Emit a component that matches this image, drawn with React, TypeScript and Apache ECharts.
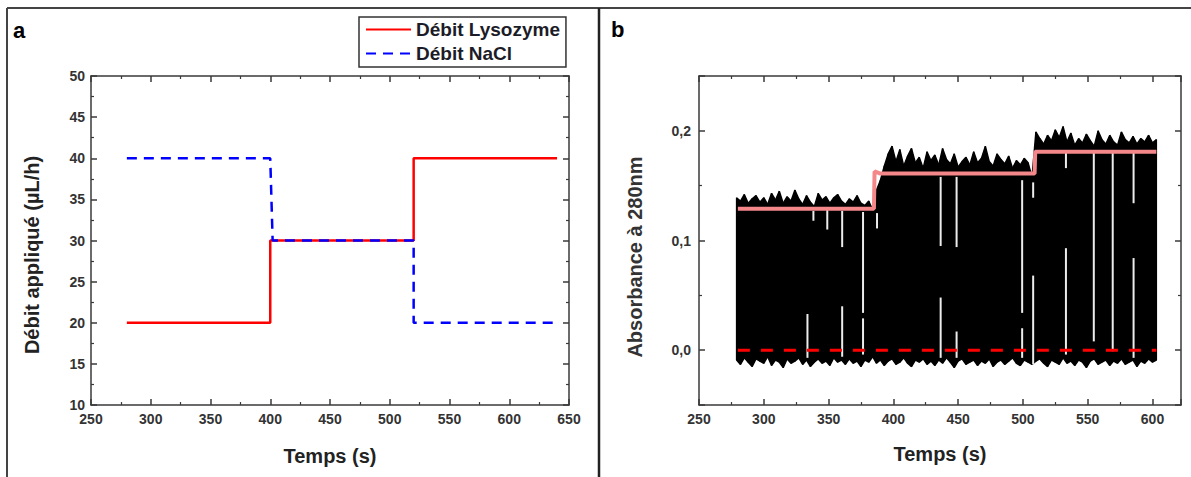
import React, { useEffect, useRef } from "react";
import * as echarts from "echarts";

// ---------- Panel a data ----------
const lysoTime = [280, 400, 400, 520, 520, 640];
const lysoFlow = [20, 20, 30, 30, 40, 40];
const naclTime = [280, 400, 402, 520, 520, 640];
const naclFlow = [40, 40, 30, 30, 20, 20];

// ---------- Panel b data ----------
const absTime = [
  279, 282, 285, 288, 291, 294, 297, 300, 303, 306,
  309, 312, 315, 318, 321, 324, 327, 330, 333, 336,
  339, 342, 345, 348, 351, 354, 357, 360, 363, 366,
  369, 372, 375, 378, 381, 384, 387, 390, 393, 396,
  399, 402, 405, 408, 411, 414, 417, 420, 423, 426,
  429, 432, 435, 438, 441, 444, 447, 450, 453, 456,
  459, 462, 465, 468, 471, 474, 477, 480, 483, 486,
  489, 492, 495, 498, 501, 504, 507, 510, 513, 516,
  519, 522, 525, 528, 531, 534, 537, 540, 543, 546,
  549, 552, 555, 558, 561, 564, 567, 570, 573, 576,
  579, 582, 585, 588, 591, 594, 597, 600, 603,
];
const absUpper = [
  0.139, 0.136, 0.142, 0.134, 0.138, 0.141, 0.135, 0.139, 0.133, 0.143,
  0.137, 0.145, 0.134, 0.140, 0.136, 0.146, 0.138, 0.133, 0.141, 0.135,
  0.131, 0.143, 0.137, 0.140, 0.134, 0.139, 0.142, 0.136, 0.133, 0.138,
  0.135, 0.141, 0.134, 0.132, 0.136, 0.128, 0.146, 0.155, 0.168, 0.179,
  0.186, 0.172, 0.183, 0.168, 0.177, 0.184, 0.171, 0.176, 0.166, 0.181,
  0.173, 0.178, 0.169, 0.184, 0.174, 0.170, 0.179, 0.167, 0.172, 0.176,
  0.169, 0.181, 0.171, 0.175, 0.186, 0.172, 0.168, 0.179, 0.174, 0.170,
  0.177, 0.166, 0.173, 0.169, 0.175, 0.171, 0.158, 0.199, 0.193, 0.188,
  0.196, 0.191, 0.201, 0.194, 0.204, 0.190, 0.198, 0.187, 0.193, 0.189,
  0.197, 0.191, 0.186, 0.200, 0.192, 0.188, 0.196, 0.190, 0.187, 0.199,
  0.192, 0.189, 0.195, 0.188, 0.193, 0.190, 0.196, 0.189, 0.192,
];
const absLower = [
  -0.009, -0.013, -0.007, -0.011, -0.015, -0.008, -0.010, -0.012, -0.006, -0.014,
  -0.009, -0.011, -0.016, -0.008, -0.012, -0.010, -0.007, -0.013, -0.009, -0.015,
  -0.011, -0.008, -0.012, -0.010, -0.014, -0.007, -0.011, -0.009, -0.013, -0.008,
  -0.012, -0.010, -0.015, -0.009, -0.011, -0.006, -0.012, -0.009, -0.014, -0.010,
  -0.008, -0.013, -0.011, -0.007, -0.012, -0.015, -0.009, -0.011, -0.008, -0.013,
  -0.010, -0.014, -0.009, -0.012, -0.007, -0.011, -0.016, -0.010, -0.008, -0.013,
  -0.011, -0.009, -0.014, -0.010, -0.012, -0.008, -0.015, -0.011, -0.009, -0.013,
  -0.010, -0.007, -0.012, -0.014, -0.009, -0.011, -0.013, -0.010, -0.008, -0.012,
  -0.015, -0.009, -0.011, -0.013, -0.007, -0.012, -0.010, -0.014, -0.009, -0.011,
  -0.016, -0.010, -0.008, -0.013, -0.011, -0.009, -0.014, -0.010, -0.012, -0.008,
  -0.013, -0.011, -0.009, -0.015, -0.010, -0.012, -0.008, -0.011, -0.009,
];
// white gaps in the recorded signal
const gapTime = [333.7, 338.3, 349, 360.5, 360.5, 376.6, 376.6, 387.4, 436.5, 436.5, 448.8, 448.8, 499.4, 499.4, 507.9, 507.9, 533.2, 533.2, 554.7, 569.3, 585.4, 585.4];
const gapLow = [-0.007, 0.118, 0.110, 0.094, -0.006, 0.034, -0.004, 0.111, 0.095, -0.007, 0.094, -0.007, 0.034, -0.007, 0.139, -0.013, 0.166, -0.004, 0.008, -0.001, 0.134, -0.007];
const gapHigh = [0.033, 0.127, 0.128, 0.127, 0.040, 0.126, 0.029, 0.125, 0.158, 0.048, 0.158, 0.017, 0.155, 0.020, 0.153, 0.068, 0.180, 0.093, 0.180, 0.180, 0.180, 0.084];
// fitted step (pink) and baseline (red dashed)
const stepTime = [280, 385, 385.5, 390, 509, 509.5, 603];
const stepAbs = [0.129, 0.129, 0.163, 0.161, 0.161, 0.181, 0.181];
const baseTime = [280, 603];
const baseAbs = [0, 0];

const FONT = "'Liberation Sans', Arial, sans-serif";
const AX = "#3a3a3a";

function axisStyle(extra: any) {
  return {
    axisLine: { show: true, onZero: false, lineStyle: { color: AX, width: 1.5 } },
    axisTick: { show: true, inside: true, length: 6, lineStyle: { color: AX, width: 1.5 } },
    minorTick: { show: true, splitNumber: 2, length: 3, lineStyle: { color: AX, width: 1.2 } },
    splitLine: { show: false },
    minorSplitLine: { show: false },
    ...extra,
  };
}

const labelStyle = { color: "#333", fontSize: 14, fontWeight: "bold", fontFamily: FONT };

export default function App() {
  const ref = useRef<HTMLDivElement>(null);
  useEffect(() => {
    if (!ref.current) return;
    const chart = echarts.init(ref.current, undefined, { renderer: "svg" });
    const zip = (a: number[], b: number[]) => a.map((v, i) => [v, b[i]]);
    // one quadrilateral per sample interval: [t0, up0, lo0, t1, up1, lo1]
    const bandData = absTime.slice(0, -1).map((t, i) => [
      t, absUpper[i], absLower[i], absTime[i + 1], absUpper[i + 1], absLower[i + 1],
    ]);

    const option: any = {
      animation: false,
      backgroundColor: "#fff",
      textStyle: { fontFamily: FONT },
      legend: {
        data: ["Débit Lysozyme", "Débit NaCl"],
        left: 359,
        top: 17,
        orient: "vertical",
        selectedMode: false,
        padding: [3, 6, 4, 6],
        itemGap: 5,
        itemWidth: 45,
        itemHeight: 14,
        itemTextGap: 4,
        borderColor: "#333",
        borderWidth: 1.5,
        itemStyle: { opacity: 0 },
        textStyle: { fontSize: 19, fontWeight: "bold", color: "#1c1c28", fontFamily: FONT },
      },
      grid: [
        { left: 91, right: 622, top: 76, bottom: 72 },
        { left: 699, right: 10, top: 76, bottom: 72 },
      ],
      xAxis: [
        axisStyle({
          type: "value", gridIndex: 0, min: 250, max: 650, interval: 50, position: "bottom",
          axisLabel: { ...labelStyle, margin: 7 },
        }),
        axisStyle({
          type: "value", gridIndex: 0, min: 250, max: 650, interval: 50, position: "top",
          axisLabel: { show: false },
        }),
        axisStyle({
          type: "value", gridIndex: 1, min: 250, max: 622, interval: 50, position: "bottom",
          axisLabel: { ...labelStyle, margin: 7, formatter: (v: number) => (v % 50 === 0 ? String(v) : "") },
        }),
        axisStyle({
          type: "value", gridIndex: 1, min: 250, max: 622, interval: 50, position: "top",
          axisLabel: { show: false },
        }),
      ],
      yAxis: [
        axisStyle({
          type: "value", gridIndex: 0, min: 10, max: 50, interval: 5, position: "left",
          axisLabel: { ...labelStyle, margin: 6 },
        }),
        axisStyle({
          type: "value", gridIndex: 0, min: 10, max: 50, interval: 5, position: "right",
          axisLabel: { show: false },
        }),
        axisStyle({
          type: "value", gridIndex: 1, min: -0.05, max: 0.25, splitNumber: 3, position: "left",
          axisLabel: {
            ...labelStyle, margin: 8,
            formatter: (v: number) => {
              const r = Math.round(v * 10) / 10;
              return Math.abs(v - r) < 1e-9 && v > -1e-9 && v < 0.21 ? r.toFixed(1).replace(".", ",") : "";
            },
          },
        }),
        axisStyle({
          type: "value", gridIndex: 1, min: -0.05, max: 0.25, splitNumber: 3, position: "right",
          axisLabel: { show: false },
        }),
      ],
      series: [
        {
          name: "Débit Lysozyme", type: "line", xAxisIndex: 0, yAxisIndex: 0,
          data: zip(lysoTime, lysoFlow), symbol: "none", z: 3,
          lineStyle: { color: "#ff0000", width: 2.5 }, itemStyle: { color: "#ff0000" },
        },
        {
          name: "Débit NaCl", type: "line", xAxisIndex: 0, yAxisIndex: 0,
          data: zip(naclTime, naclFlow), symbol: "none", z: 4,
          lineStyle: { color: "#0000ff", width: 2.5, type: [10, 7] }, itemStyle: { color: "#0000ff" },
        },
        {
          name: "absBand", type: "custom", xAxisIndex: 2, yAxisIndex: 2, z: 2,
          data: bandData,
          encode: { x: [0, 3], y: [1, 2, 4, 5] },
          renderItem: (params: any, api: any) => {
            const a = api.coord([api.value(0), api.value(1)]);
            const b = api.coord([api.value(3), api.value(4)]);
            const c = api.coord([api.value(3), api.value(5)]);
            const d = api.coord([api.value(0), api.value(2)]);
            return {
              type: "polygon",
              shape: { points: [a, b, c, d] },
              style: { fill: "#000", stroke: "#000", lineWidth: 1.4, lineJoin: "bevel" },
            };
          },
        },
        {
          name: "gaps", type: "custom", xAxisIndex: 2, yAxisIndex: 2, z: 3,
          data: gapTime.map((t, i) => [t, gapLow[i], gapHigh[i]]),
          encode: { x: 0, y: [1, 2] },
          renderItem: (params: any, api: any) => {
            const top = api.coord([api.value(0), api.value(2)]);
            const bot = api.coord([api.value(0), api.value(1)]);
            return {
              type: "rect",
              shape: { x: top[0] - 1, y: top[1], width: 2, height: bot[1] - top[1] },
              style: { fill: "#ececec" },
            };
          },
        },
        {
          name: "baseline", type: "line", xAxisIndex: 2, yAxisIndex: 2, z: 4,
          data: zip(baseTime, baseAbs), symbol: "none",
          lineStyle: { color: "#ff0000", width: 3, type: [12, 11] },
        },
        {
          name: "step", type: "line", xAxisIndex: 2, yAxisIndex: 2, z: 5,
          data: zip(stepTime, stepAbs), symbol: "none",
          lineStyle: { color: "#f4878a", width: 4 },
        },
      ],
      graphic: [
        { type: "line", shape: { x1: 7, y1: 8, x2: 1191, y2: 8 }, style: { stroke: "#444", lineWidth: 2 } },
        { type: "line", shape: { x1: 7, y1: 8, x2: 7, y2: 477 }, style: { stroke: "#444", lineWidth: 2 } },
        { type: "line", shape: { x1: 599, y1: 8, x2: 599, y2: 477 }, style: { stroke: "#222", lineWidth: 2.5 } },
        { type: "text", x: 13, y: 30, style: { text: "a", font: `bold 22px ${FONT}`, fill: "#000", verticalAlign: "middle" } },
        { type: "text", x: 611, y: 29, style: { text: "b", font: `bold 22px ${FONT}`, fill: "#000", verticalAlign: "middle" } },
        {
          type: "text", x: 32, y: 255, rotation: Math.PI / 2,
          style: { text: "Débit appliqué (µL/h)", font: `bold 20px ${FONT}`, fill: "#222", align: "center", verticalAlign: "middle" },
        },
        {
          type: "text", x: 635, y: 257, rotation: Math.PI / 2,
          style: { text: "Absorbance à 280nm", font: `bold 20px ${FONT}`, fill: "#333", align: "center", verticalAlign: "middle" },
        },
        {
          type: "text", x: 330, y: 456,
          style: { text: "Temps (s)", font: `bold 20px ${FONT}`, fill: "#222", align: "center", verticalAlign: "middle" },
        },
        {
          type: "text", x: 940, y: 454,
          style: { text: "Temps (s)", font: `bold 20px ${FONT}`, fill: "#222", align: "center", verticalAlign: "middle" },
        },
      ],
    };
    chart.setOption(option);
    return () => chart.dispose();
  }, []);
  return (
    <div
      ref={ref}
      style={{ position: "absolute", left: 0, top: 0, width: 1191, height: 477, background: "#fff" }}
    />
  );
}
